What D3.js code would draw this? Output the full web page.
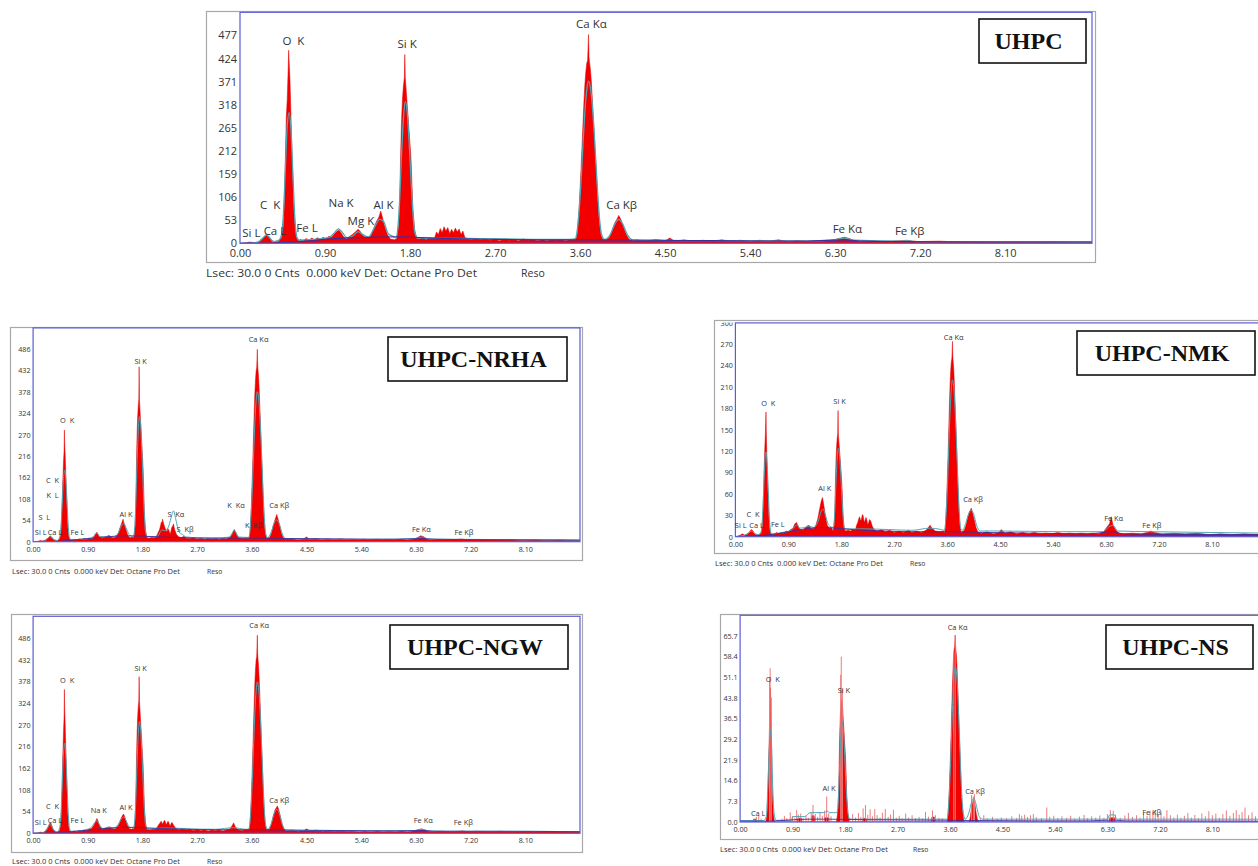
<!DOCTYPE html>
<html>
<head>
<meta charset="utf-8">
<script src="https://cdn.jsdelivr.net/npm/d3@7"></script>
<style>
  body { margin: 0; background: #fff; }
  svg { display: block; }
  text { white-space: pre; }
</style>
</head>
<body>
<svg id="chart" width="1258" height="866"></svg>
<script>
// ---------- Shared axis labels ----------
const energyTickLabels = ["0.00", "0.90", "1.80", "2.70", "3.60", "4.50", "5.40", "6.30", "7.20", "8.10"];
const uhpcCountTicks = ["0", "53", "106", "159", "212", "265", "318", "371", "424", "477"];
const nrhaCountTicks = ["0", "54", "108", "162", "216", "270", "324", "378", "432", "486"];
const nmkCountTicks = ["0", "30", "60", "90", "120", "150", "180", "210", "240", "270", "300"];
const ngwCountTicks = ["0", "54", "108", "162", "216", "270", "324", "378", "432", "486"];
const nsCountTicks = ["0.0", "7.3", "14.6", "21.9", "29.2", "36.5", "43.8", "51.1", "58.4", "65.7"];
const statusLine = "Lsec: 30.0 0 Cnts  0.000 keV Det: Octane Pro Det";
const statusReso = "Reso";

// ---------- UHPC : [keV, counts] ----------
const uhpcSpectrum = [[0.00,0],[0.06,1],[0.10,3],[0.14,2],[0.18,1],[0.22,6],[0.26,16],[0.28,21],[0.30,17],[0.33,8],[0.36,4],[0.40,6],[0.42,9],[0.44,12],[0.46,40],[0.47,100],[0.48,190],[0.49,290],[0.50,330],[0.51,400],[0.515,443],[0.52,420],[0.53,370],[0.54,290],[0.55,210],[0.56,140],[0.57,80],[0.585,35],[0.60,12],[0.62,6],[0.64,9],[0.67,5],[0.70,11],[0.73,7],[0.76,12],[0.79,8],[0.82,13],[0.85,9],[0.88,14],[0.91,10],[0.94,16],[0.97,14],[1.00,22],[1.03,28],[1.05,30],[1.07,24],[1.10,14],[1.13,10],[1.16,16],[1.19,20],[1.22,26],[1.25,32],[1.27,28],[1.29,22],[1.32,14],[1.35,12],[1.38,16],[1.41,30],[1.44,48],[1.47,60],[1.49,74],[1.51,58],[1.53,40],[1.56,20],[1.59,10],[1.62,9],[1.64,8],[1.66,11],[1.68,42],[1.69,91],[1.70,198],[1.71,281],[1.72,331],[1.73,361],[1.74,380],[1.745,433],[1.75,380],[1.76,350],[1.77,319],[1.78,289],[1.79,258],[1.80,228],[1.81,198],[1.82,141],[1.83,80],[1.85,30],[1.87,11],[1.90,10],[1.93,12],[1.97,9],[2.01,13],[2.04,11],[2.06,12],[2.08,26],[2.10,20],[2.12,34],[2.14,24],[2.16,38],[2.18,28],[2.20,36],[2.22,22],[2.24,32],[2.26,24],[2.28,35],[2.30,26],[2.32,33],[2.34,20],[2.36,28],[2.38,14],[2.41,10],[2.45,9],[2.50,11],[2.55,8],[2.60,10],[2.65,7],[2.70,9],[2.75,6],[2.80,10],[2.85,7],[2.90,9],[2.95,6],[3.00,10],[3.05,7],[3.10,9],[3.15,6],[3.20,8],[3.25,6],[3.30,9],[3.35,7],[3.40,8],[3.45,6],[3.50,9],[3.53,8],[3.555,9],[3.57,21],[3.59,80],[3.61,168],[3.62,218],[3.63,269],[3.64,319],[3.65,361],[3.66,391],[3.67,412],[3.68,420],[3.69,479],[3.695,428],[3.70,416],[3.71,399],[3.72,370],[3.73,332],[3.74,290],[3.75,252],[3.76,210],[3.78,130],[3.80,59],[3.82,21],[3.84,9],[3.88,8],[3.91,14],[3.94,30],[3.97,48],[3.99,55],[4.01,64],[4.03,56],[4.06,38],[4.09,20],[4.12,9],[4.16,6],[4.20,8],[4.30,5],[4.40,9],[4.50,6],[4.55,12],[4.60,5],[4.70,8],[4.80,5],[4.90,7],[5.00,5],[5.10,8],[5.20,5],[5.30,7],[5.40,4],[5.50,7],[5.60,5],[5.70,8],[5.80,4],[5.90,6],[6.00,4],[6.10,6],[6.20,5],[6.30,9],[6.36,12],[6.40,14],[6.45,11],[6.50,6],[6.60,4],[6.70,6],[6.80,4],[6.90,5],[7.00,6],[7.06,7],[7.12,5],[7.20,4],[7.40,5],[7.60,3],[7.80,4],[8.00,3],[8.20,4],[8.40,3],[8.60,4],[8.80,3],[9.02,3]];
const uhpcFit = [[0.00,0],[0.15,1],[0.20,4],[0.25,14],[0.28,19],[0.31,14],[0.35,4],[0.40,5],[0.44,20],[0.46,70],[0.48,170],[0.50,270],[0.52,300],[0.54,260],[0.56,160],[0.58,60],[0.60,15],[0.63,7],[0.70,8],[0.85,10],[0.95,14],[1.00,24],[1.04,33],[1.08,26],[1.13,13],[1.20,18],[1.25,27],[1.30,20],[1.36,14],[1.42,35],[1.48,55],[1.52,50],[1.57,22],[1.62,16],[1.65,12],[1.67,33],[1.69,98],[1.71,202],[1.73,286],[1.75,325],[1.77,302],[1.79,234],[1.81,150],[1.83,72],[1.85,26],[1.88,13],[1.92,12],[2.10,12],[2.40,11],[2.80,10],[3.20,9],[3.50,9],[3.55,11],[3.57,30],[3.59,74],[3.61,141],[3.63,223],[3.65,298],[3.67,350],[3.69,372],[3.71,357],[3.73,316],[3.75,253],[3.77,179],[3.79,104],[3.81,48],[3.83,19],[3.86,9],[3.92,20],[3.97,45],[4.01,55],[4.05,45],[4.10,20],[4.16,8],[4.40,7],[5.00,6],[6.00,5],[6.30,8],[6.40,12],[6.50,7],[7.00,5],[7.06,6],[7.15,4],[8.00,4],[9.02,3]];
const uhpcBackground = [[0.00,0],[0.30,0],[0.50,2],[0.70,5],[0.90,9],[1.10,12],[1.40,14],[1.70,15],[1.90,13],[2.20,11],[2.70,9],[3.20,8],[3.70,8],[4.20,7],[5.00,6],[6.00,5],[6.40,8],[6.60,5],[7.00,4],[8.00,3],[9.02,3]];
const uhpcPeakLabels = [["Si L",0.12,15],["Ca L",0.37,19],["C  K",0.32,78],["O  K",0.565,456],["Fe L",0.71,26],["Na K",1.07,84],["Mg K",1.28,42],["Al K",1.52,79],["Si K",1.77,449],["Ca Kα",3.72,495],["Ca Kβ",4.04,79],["Fe Kα",6.43,23],["Fe Kβ",7.09,19]];

// ---------- UHPC-NRHA ----------
const nrhaSpectrum = [[0.00,0],[0.08,1],[0.12,3],[0.16,2],[0.20,4],[0.25,10],[0.28,15],[0.31,11],[0.35,4],[0.40,3],[0.44,8],[0.46,25],[0.47,60],[0.48,110],[0.49,160],[0.50,200],[0.51,230],[0.515,282],[0.52,250],[0.53,210],[0.54,160],[0.55,115],[0.56,75],[0.57,40],[0.585,15],[0.60,6],[0.64,4],[0.68,6],[0.72,4],[0.76,7],[0.80,5],[0.84,8],[0.88,6],[0.92,9],[0.96,7],[1.00,12],[1.03,20],[1.05,24],[1.07,18],[1.10,10],[1.14,9],[1.18,12],[1.22,14],[1.25,16],[1.28,12],[1.32,10],[1.36,12],[1.40,20],[1.43,35],[1.46,48],[1.48,57],[1.50,45],[1.53,30],[1.56,15],[1.60,10],[1.63,12],[1.66,11],[1.68,40],[1.69,86],[1.70,187],[1.71,266],[1.72,313],[1.73,342],[1.74,360],[1.745,442],[1.75,360],[1.76,331],[1.77,302],[1.78,274],[1.79,245],[1.80,216],[1.81,187],[1.82,133],[1.83,76],[1.85,29],[1.87,11],[1.90,9],[1.93,10],[1.96,11],[2.00,10],[2.04,16],[2.06,24],[2.08,30],[2.10,42],[2.11,50],[2.12,44],[2.13,57],[2.15,45],[2.17,35],[2.19,28],[2.20,25],[2.22,33],[2.23,30],[2.25,22],[2.26,20],[2.28,35],[2.30,40],[2.31,45],[2.33,30],[2.36,18],[2.40,12],[2.44,10],[2.48,14],[2.52,9],[2.58,8],[2.64,10],[2.70,7],[2.76,9],[2.82,6],[2.88,8],[2.94,7],[3.00,9],[3.06,6],[3.12,8],[3.18,7],[3.24,12],[3.28,22],[3.31,31],[3.34,22],[3.38,10],[3.44,8],[3.50,9],[3.53,8],[3.555,9],[3.57,22],[3.59,84],[3.61,176],[3.62,229],[3.63,282],[3.64,334],[3.65,378],[3.66,409],[3.67,431],[3.68,440],[3.69,486],[3.695,449],[3.70,436],[3.71,418],[3.72,387],[3.73,348],[3.74,304],[3.75,264],[3.76,220],[3.78,136],[3.80,62],[3.82,22],[3.84,9],[3.89,10],[3.92,20],[3.95,40],[3.98,55],[4.01,69],[4.03,58],[4.06,40],[4.09,20],[4.12,9],[4.16,6],[4.25,8],[4.35,5],[4.45,7],[4.50,12],[4.55,6],[4.65,8],[4.75,5],[4.85,7],[4.95,5],[5.05,7],[5.15,5],[5.25,6],[5.35,4],[5.45,6],[5.55,4],[5.65,6],[5.75,4],[5.85,5],[5.95,4],[6.05,6],[6.15,4],[6.25,6],[6.32,10],[6.38,15],[6.42,13],[6.48,7],[6.55,4],[6.65,5],[6.80,4],[6.95,5],[7.05,7],[7.12,5],[7.25,4],[7.45,5],[7.65,4],[7.85,5],[8.05,3],[8.25,4],[8.45,3],[8.65,4],[8.85,3],[9.00,3]];
const nrhaFit = [[0.00,0],[0.15,1],[0.22,5],[0.28,13],[0.33,6],[0.40,3],[0.44,12],[0.46,42],[0.48,100],[0.50,160],[0.52,181],[0.54,155],[0.56,95],[0.58,36],[0.60,10],[0.63,5],[0.80,6],[0.95,9],[1.02,18],[1.05,22],[1.09,14],[1.18,12],[1.25,14],[1.32,12],[1.40,22],[1.46,42],[1.49,47],[1.53,35],[1.58,18],[1.62,14],[1.65,12],[1.67,32],[1.69,95],[1.71,196],[1.73,278],[1.75,316],[1.77,294],[1.79,228],[1.81,145],[1.83,70],[1.85,25],[1.88,13],[1.95,12],[2.05,14],[2.12,30],[2.16,28],[2.22,35],[2.27,60],[2.31,78],[2.35,55],[2.40,25],[2.46,18],[2.52,12],[2.70,10],[3.00,9],[3.24,12],[3.31,28],[3.38,12],[3.50,11],[3.55,11],[3.57,30],[3.59,76],[3.61,144],[3.63,227],[3.65,303],[3.67,356],[3.69,379],[3.71,364],[3.73,322],[3.75,258],[3.77,182],[3.79,106],[3.81,49],[3.83,19],[3.86,10],[3.92,25],[3.97,48],[4.01,55],[4.05,45],[4.10,20],[4.16,8],[4.50,7],[5.50,6],[6.30,8],[6.40,12],[6.50,7],[7.06,6],[8.00,5],[9.00,4]];
const nrhaBackground = [[0.00,0],[0.30,0],[0.50,2],[0.70,5],[0.90,8],[1.20,12],[1.50,15],[1.80,14],[2.10,12],[2.50,10],[3.00,9],[3.60,9],[4.20,8],[5.00,7],[6.00,6],[6.40,8],[6.60,6],[7.50,5],[9.00,4]];
const nrhaPeakLabels = [["Si L",0.125,17],["Ca L",0.36,17],["S  L",0.185,55],["K  L",0.32,110],["C  K",0.32,147],["Fe L",0.73,17],["O  K",0.56,300],["Al K",1.53,63],["Si K",1.77,449],["S  Kα",2.35,62],["S  Kβ",2.50,24],["K  Kα",3.34,84],["K  Kβ",3.63,34],["Ca Kα",3.71,505],["Ca Kβ",4.05,86],["Fe Kα",6.39,24],["Fe Kβ",7.09,17]];

// ---------- UHPC-NMK ----------
const nmkSpectrum = [[0.00,0],[0.08,2],[0.12,4],[0.16,2],[0.20,3],[0.24,7],[0.27,10],[0.30,8],[0.33,4],[0.38,2],[0.42,4],[0.44,5],[0.46,15],[0.47,35],[0.48,65],[0.49,100],[0.50,125],[0.51,145],[0.52,175],[0.525,150],[0.53,130],[0.54,100],[0.55,70],[0.56,45],[0.57,25],[0.585,10],[0.60,4],[0.65,3],[0.70,6],[0.74,4],[0.78,6],[0.82,5],[0.86,8],[0.90,7],[0.94,10],[0.98,12],[1.01,18],[1.04,20],[1.07,14],[1.10,10],[1.14,9],[1.18,12],[1.22,15],[1.25,16],[1.28,12],[1.32,11],[1.36,14],[1.40,25],[1.43,38],[1.46,50],[1.48,55],[1.50,46],[1.53,30],[1.56,16],[1.60,12],[1.63,13],[1.66,8],[1.68,16],[1.69,35],[1.70,75],[1.71,107],[1.72,126],[1.73,138],[1.74,145],[1.745,177],[1.75,145],[1.76,133],[1.77,122],[1.78,110],[1.79,99],[1.80,87],[1.81,75],[1.82,54],[1.83,30],[1.85,12],[1.87,8],[1.92,9],[1.96,8],[2.00,10],[2.04,9],[2.06,16],[2.08,20],[2.10,26],[2.11,28],[2.13,22],[2.14,24],[2.16,31],[2.17,30],[2.19,20],[2.20,22],[2.22,27],[2.23,25],[2.25,17],[2.26,18],[2.28,24],[2.30,22],[2.33,14],[2.37,9],[2.42,8],[2.48,10],[2.55,7],[2.62,9],[2.70,6],[2.78,8],[2.86,6],[2.94,9],[3.00,6],[3.08,8],[3.16,6],[3.24,9],[3.28,13],[3.31,16],[3.34,12],[3.40,8],[3.48,7],[3.53,8],[3.555,5],[3.57,13],[3.59,48],[3.61,100],[3.62,130],[3.63,160],[3.64,190],[3.65,215],[3.66,233],[3.67,245],[3.68,250],[3.69,274],[3.695,255],[3.70,248],[3.71,238],[3.72,220],[3.73,198],[3.74,173],[3.75,150],[3.76,125],[3.78,78],[3.80,35],[3.82,13],[3.84,6],[3.89,9],[3.92,16],[3.95,28],[3.98,35],[4.01,40],[4.03,34],[4.06,24],[4.09,13],[4.12,7],[4.18,5],[4.28,7],[4.38,4],[4.48,6],[4.52,10],[4.58,5],[4.68,7],[4.78,4],[4.88,6],[4.98,4],[5.08,6],[5.18,4],[5.28,5],[5.38,4],[5.48,6],[5.58,4],[5.68,5],[5.78,4],[5.88,5],[5.98,4],[6.08,5],[6.18,4],[6.26,7],[6.32,14],[6.36,18],[6.39,28],[6.42,16],[6.46,10],[6.52,5],[6.60,4],[6.75,5],[6.90,4],[7.00,6],[7.06,8],[7.12,6],[7.25,4],[7.45,5],[7.65,4],[7.85,5],[8.05,3],[8.25,4],[8.45,3],[8.65,4],[8.85,3],[9.02,3]];
const nmkFit = [[0.00,0],[0.15,2],[0.22,5],[0.28,8],[0.33,4],[0.40,3],[0.44,8],[0.46,28],[0.48,65],[0.50,105],[0.52,119],[0.54,100],[0.56,62],[0.58,24],[0.60,7],[0.63,4],[0.80,6],[0.95,9],[1.02,15],[1.05,17],[1.09,12],[1.18,13],[1.25,15],[1.32,13],[1.40,20],[1.46,36],[1.49,39],[1.53,30],[1.58,17],[1.62,14],[1.65,13],[1.67,15],[1.69,37],[1.71,77],[1.73,109],[1.75,124],[1.77,115],[1.79,89],[1.81,57],[1.83,28],[1.85,12],[1.88,11],[2.00,11],[2.20,11],[2.60,10],[3.00,9],[3.31,12],[3.50,10],[3.55,9],[3.57,18],[3.59,44],[3.61,84],[3.63,132],[3.65,176],[3.67,207],[3.69,220],[3.71,211],[3.73,187],[3.75,150],[3.77,106],[3.79,62],[3.81,29],[3.83,12],[3.86,9],[3.92,20],[3.97,33],[4.01,37],[4.05,32],[4.10,16],[4.16,8],[4.50,8],[5.50,7],[6.25,7],[6.35,14],[6.42,16],[6.50,8],[7.06,7],[8.00,6],[9.02,5]];
const nmkBackground = [[0.00,0],[0.30,0],[0.50,2],[0.70,4],[0.90,7],[1.20,11],[1.45,13],[1.70,12],[2.00,10],[2.50,8],[3.00,7],[3.60,7],[4.20,6],[5.00,5],[6.00,4],[6.40,7],[6.60,4],[7.50,3],[9.02,3]];
const nmkPeakLabels = [["Si L",0.09,12],["Ca L",0.36,12],["C  K",0.30,28],["Fe L",0.72,14],["O  K",0.56,184],["Al K",1.52,64],["Si K",1.77,186],["Ca Kα",3.71,276],["Ca Kβ",4.04,48],["Fe Kα",6.43,22.5],["Fe Kβ",7.08,12]];

// ---------- UHPC-NGW ----------
const ngwSpectrum = [[0.00,0],[0.08,1],[0.12,3],[0.16,2],[0.20,5],[0.24,14],[0.27,24],[0.29,26],[0.31,18],[0.34,7],[0.38,3],[0.42,5],[0.44,8],[0.46,30],[0.47,70],[0.48,140],[0.49,200],[0.50,250],[0.51,290],[0.515,358],[0.52,310],[0.53,260],[0.54,200],[0.55,140],[0.56,90],[0.57,50],[0.585,18],[0.60,6],[0.64,4],[0.68,6],[0.72,4],[0.76,7],[0.80,5],[0.84,8],[0.88,7],[0.92,10],[0.96,12],[1.00,20],[1.03,30],[1.05,37],[1.07,30],[1.10,16],[1.14,10],[1.18,12],[1.22,15],[1.26,16],[1.30,12],[1.34,11],[1.38,14],[1.42,25],[1.45,38],[1.47,44],[1.49,48],[1.51,40],[1.54,25],[1.58,12],[1.62,10],[1.64,12],[1.66,10],[1.68,36],[1.69,79],[1.70,172],[1.71,244],[1.72,287],[1.73,314],[1.74,330],[1.745,390],[1.75,330],[1.76,304],[1.77,277],[1.78,251],[1.79,224],[1.80,198],[1.81,172],[1.82,122],[1.83,69],[1.85,26],[1.87,10],[1.92,9],[1.96,11],[2.00,10],[2.04,14],[2.06,20],[2.08,24],[2.10,29],[2.11,30],[2.13,22],[2.14,26],[2.16,32],[2.17,31],[2.19,22],[2.20,24],[2.22,30],[2.23,28],[2.25,19],[2.26,20],[2.28,27],[2.29,26],[2.32,18],[2.36,11],[2.40,9],[2.46,11],[2.52,8],[2.58,10],[2.64,7],[2.70,9],[2.76,7],[2.82,9],[2.88,6],[2.94,8],[3.00,7],[3.06,9],[3.12,6],[3.18,8],[3.24,11],[3.28,20],[3.30,26],[3.33,15],[3.38,8],[3.44,7],[3.50,9],[3.53,8],[3.555,9],[3.57,22],[3.59,84],[3.61,176],[3.62,229],[3.63,282],[3.64,334],[3.65,378],[3.66,409],[3.67,431],[3.68,440],[3.69,493],[3.695,449],[3.70,436],[3.71,418],[3.72,387],[3.73,348],[3.74,304],[3.75,264],[3.76,220],[3.78,136],[3.80,62],[3.82,22],[3.84,9],[3.89,10],[3.92,22],[3.95,42],[3.98,58],[4.02,68],[4.04,60],[4.07,42],[4.10,22],[4.13,10],[4.17,6],[4.26,8],[4.36,5],[4.46,7],[4.50,11],[4.56,6],[4.66,8],[4.76,5],[4.86,7],[4.96,5],[5.06,7],[5.16,5],[5.26,6],[5.36,4],[5.46,6],[5.56,4],[5.66,6],[5.76,4],[5.86,5],[5.96,4],[6.06,6],[6.16,4],[6.26,6],[6.33,9],[6.39,11],[6.44,9],[6.50,6],[6.58,4],[6.70,5],[6.85,4],[7.00,5],[7.06,6],[7.14,4],[7.30,5],[7.50,4],[7.70,5],[7.90,3],[8.10,4],[8.30,3],[8.50,4],[8.70,3],[9.00,3]];
const ngwFit = [[0.00,0],[0.15,1],[0.22,8],[0.28,22],[0.33,10],[0.40,4],[0.44,15],[0.46,52],[0.48,125],[0.50,200],[0.52,224],[0.54,190],[0.56,118],[0.58,45],[0.60,12],[0.63,5],[0.80,7],[0.95,14],[1.01,26],[1.05,31],[1.09,22],[1.15,12],[1.25,15],[1.32,13],[1.40,22],[1.46,38],[1.49,41],[1.53,32],[1.58,16],[1.62,14],[1.65,12],[1.67,28],[1.69,83],[1.71,172],[1.73,245],[1.75,278],[1.77,259],[1.79,200],[1.81,128],[1.83,61],[1.85,22],[1.88,12],[1.95,11],[2.10,13],[2.30,13],[2.60,11],[3.00,10],[3.30,14],[3.50,10],[3.55,11],[3.57,30],[3.59,75],[3.61,143],[3.63,226],[3.65,302],[3.67,354],[3.69,377],[3.71,362],[3.73,320],[3.75,256],[3.77,181],[3.79,106],[3.81,49],[3.83,19],[3.86,10],[3.92,25],[3.97,50],[4.01,60],[4.05,50],[4.10,22],[4.16,8],[4.50,7],[5.50,6],[6.30,7],[6.40,10],[6.50,6],[7.06,5],[8.00,5],[9.00,4]];
const ngwBackground = [[0.00,0],[0.30,0],[0.50,2],[0.70,5],[0.90,8],[1.20,12],[1.50,15],[1.80,14],[2.10,12],[2.50,10],[3.00,9],[3.60,9],[4.20,8],[5.00,7],[6.00,6],[6.40,7],[6.60,5],[7.50,5],[9.00,4]];
const ngwPeakLabels = [["Si L",0.125,21],["Ca L",0.36,25],["C  K",0.32,60],["Fe L",0.73,25],["O  K",0.56,375],["Na K",1.08,50],["Al K",1.53,58],["Si K",1.77,404],["Ca Kα",3.72,510],["Ca Kβ",4.05,75],["Fe Kα",6.42,25],["Fe Kβ",7.08,21]];

// ---------- UHPC-NS ----------
const nsSpectrum = [[0.00,0],[0.22,0],[0.23,1],[0.27,1],[0.28,0],[0.44,0],[0.46,2],[0.48,12],[0.49,22],[0.50,30],[0.51,40],[0.52,47.4],[0.53,38],[0.54,25],[0.55,12],[0.57,3],[0.59,0],[0.98,0],[0.99,1.3],[1.05,1.3],[1.06,0],[1.22,0],[1.23,2.2],[1.27,2.2],[1.28,0],[1.44,0],[1.45,1.5],[1.52,1.5],[1.53,0],[1.65,0],[1.66,1],[1.68,5],[1.69,10],[1.70,22],[1.71,32],[1.72,38],[1.73,41],[1.74,43.3],[1.75,43],[1.76,40],[1.77,36],[1.78,33],[1.79,29],[1.80,26],[1.81,22],[1.82,16],[1.83,9],[1.85,3],[1.87,0],[2.10,0],[2.11,1.3],[2.16,1.3],[2.17,0],[3.28,0],[3.29,1.8],[3.33,1.8],[3.34,0],[3.555,0],[3.57,3],[3.59,12],[3.61,25],[3.62,32],[3.63,40],[3.64,47],[3.65,53],[3.66,58],[3.67,61],[3.68,62],[3.69,66],[3.695,63],[3.70,61],[3.71,59],[3.72,55],[3.73,49],[3.74,43],[3.75,37],[3.76,31],[3.78,19],[3.80,9],[3.82,3],[3.84,0],[3.93,0],[3.95,2],[3.97,5],[3.99,7],[4.01,7.8],[4.03,6],[4.05,3],[4.07,1],[4.09,0],[6.33,0],[6.34,1.5],[6.42,1.5],[6.43,0],[9.02,0]];
const nsChannelSpikes = [[0.24,1.2],[0.28,1.8],[0.32,2.5],[0.36,1.2],[0.505,51],[0.515,54.3],[0.535,44],[0.72,1.2],[0.76,2.1],[0.80,1.4],[0.86,3.4],[0.90,2.0],[0.94,1.5],[0.97,4.2],[1.00,2.6],[1.04,3.0],[1.08,1.4],[1.13,2.2],[1.17,1.5],[1.22,3.3],[1.25,6.0],[1.29,2.8],[1.33,1.8],[1.37,3.5],[1.41,2.2],[1.45,4.0],[1.485,9.0],[1.52,3.0],[1.56,2.0],[1.725,52],[1.735,58.4],[1.755,47],[1.88,1.5],[1.93,2.8],[1.98,1.6],[2.03,3.2],[2.07,1.8],[2.11,4.8],[2.15,6.0],[2.19,2.6],[2.23,4.5],[2.27,2.0],[2.31,4.6],[2.35,2.4],[2.40,1.6],[2.44,3.3],[2.49,4.6],[2.54,1.8],[2.58,2.6],[2.63,4.3],[2.68,1.5],[2.73,2.2],[2.78,1.3],[2.84,3.0],[2.89,1.6],[2.95,2.4],[3.01,1.4],[3.07,1.8],[3.13,1.2],[3.18,3.6],[3.23,1.9],[3.30,4.1],[3.35,2.4],[3.41,1.5],[3.47,1.3],[3.665,60],[3.69,66],[3.97,9.5],[4.00,9],[4.02,9.8],[4.12,1.5],[4.18,2.4],[4.24,1.3],[4.33,1.8],[4.41,1.2],[4.48,1.6],[4.57,1.3],[4.66,2.0],[4.74,1.4],[4.79,2.8],[4.83,2.2],[4.88,2.6],[4.93,1.8],[4.98,2.4],[5.03,2.8],[5.08,1.7],[5.17,1.4],[5.26,5.1],[5.31,1.8],[5.38,2.2],[5.45,1.4],[5.52,2.0],[5.60,1.5],[5.67,2.2],[5.74,1.3],[5.82,1.9],[5.90,2.5],[5.96,1.4],[6.03,2.0],[6.10,1.6],[6.17,2.3],[6.24,1.5],[6.30,2.8],[6.35,4.2],[6.40,4.0],[6.44,2.6],[6.52,1.5],[6.60,2.3],[6.66,3.2],[6.73,1.8],[6.80,2.4],[6.86,1.5],[6.92,3.0],[6.98,2.2],[7.03,4.0],[7.08,3.4],[7.12,4.2],[7.17,2.6],[7.22,3.8],[7.27,2.0],[7.32,4.2],[7.38,2.4],[7.44,1.6],[7.50,2.6],[7.56,1.5],[7.62,2.2],[7.68,3.2],[7.74,1.6],[7.80,2.5],[7.86,1.4],[7.92,3.0],[7.98,2.0],[8.04,3.8],[8.10,2.4],[8.16,3.0],[8.22,1.5],[8.28,2.8],[8.34,4.1],[8.40,2.2],[8.46,3.2],[8.51,4.2],[8.56,2.6],[8.61,3.5],[8.66,5.1],[8.72,2.4],[8.78,3.4],[8.84,2.0],[8.90,3.0],[8.96,2.4]];
const nsFit = [[0.00,0.5],[0.40,0.5],[0.45,2],[0.48,15],[0.51,30],[0.525,32.5],[0.54,27],[0.56,12],[0.59,2],[0.62,0.6],[0.80,0.6],[0.88,0.6],[0.90,1.9],[1.10,1.9],[1.12,2.0],[1.20,3.3],[1.45,3.3],[1.49,4],[1.53,3.3],[1.60,3.3],[1.65,3.3],[1.67,4],[1.69,10.6],[1.71,22],[1.73,31],[1.75,35.4],[1.77,33],[1.79,25.5],[1.81,16],[1.83,8],[1.85,3],[1.88,1],[2.20,1],[3.00,1],[3.50,1],[3.55,1],[3.57,4.4],[3.59,11],[3.61,21],[3.63,33],[3.65,44],[3.67,52],[3.69,55],[3.71,53],[3.73,47],[3.75,37],[3.77,26],[3.79,15],[3.81,7],[3.83,3],[3.86,1],[3.92,3],[3.97,7],[4.01,8.4],[4.05,6],[4.10,2],[4.16,1],[5.00,1],[6.30,1],[6.34,2.5],[6.42,2.5],[6.46,1],[7.00,1],[9.02,1]];
const nsBackground = [[0.00,0.3],[0.50,0.3],[0.70,0.5],[1.00,0.9],[1.20,1.0],[1.50,1.0],[1.80,0.9],[2.20,0.8],[3.00,0.7],[3.60,0.6],[4.20,0.5],[5.00,0.4],[6.00,0.4],[6.40,0.7],[6.60,0.4],[9.02,0.3]];
const nsPeakLabels = [["Ca L",0.31,2.1],["O  K",0.56,49.3],["Al K",1.525,11.1],["Si K",1.78,45.5],["Ca Kα",3.73,67.8],["Ca Kβ",4.03,9.9],["Fe Kβ",7.06,2.5]];

// ---------- Panel layout ----------
const panels = [
  { title: "UHPC", spectrum: uhpcSpectrum, fit: uhpcFit, bg: uhpcBackground, labels: uhpcPeakLabels,
    yTicks: uhpcCountTicks, yMax: 530, xMax: 9.02,
    frame: [206, 11, 1095, 262], plot: [240, 12.3, 1092, 243.3], box: [979, 19, 1086, 63],
    font: 11.5, tickFont: 11, status: [206, 276.5, 271, 521], clipTop: 0, axisClipTop: 0 },
  { title: "UHPC-NRHA", spectrum: nrhaSpectrum, fit: nrhaFit, bg: nrhaBackground, labels: nrhaPeakLabels,
    yTicks: nrhaCountTicks, yMax: 540, xMax: 9.0,
    frame: [10, 327, 582, 560], plot: [33.1, 327.9, 580, 541.7], box: [388, 337, 567, 381],
    font: 7.4, tickFont: 7.2, status: [12, 573.5, 168, 207], clipTop: 300, axisClipTop: 300 },
  { title: "UHPC-NMK", spectrum: nmkSpectrum, fit: nmkFit, bg: nmkBackground, labels: nmkPeakLabels,
    yTicks: nmkCountTicks, yMax: 300, xMax: 9.02,
    frame: [714, 320, 1262, 553], plot: [735.4, 322.9, 1266, 536.7], box: [1077, 331, 1255, 375],
    font: 7.4, tickFont: 7.2, status: [715, 565.5, 168, 910], clipTop: 319, axisClipTop: 322.6 },
  { title: "UHPC-NGW", spectrum: ngwSpectrum, fit: ngwFit, bg: ngwBackground, labels: ngwPeakLabels,
    yTicks: ngwCountTicks, yMax: 540, xMax: 9.0,
    frame: [11, 614, 582, 852], plot: [33.1, 616.3, 580, 833.3], box: [390, 625, 568, 669],
    font: 7.4, tickFont: 7.2, status: [12, 863.5, 168, 207], clipTop: 600, axisClipTop: 600 },
  { title: "UHPC-NS", spectrum: nsSpectrum, fit: nsFit, bg: nsBackground, labels: nsPeakLabels,
    spikes: nsChannelSpikes,
    yTicks: nsCountTicks, yMax: 73, xMax: 9.02,
    frame: [720, 614, 1262, 839], plot: [740.1, 615.3, 1266, 822], box: [1106, 625, 1253, 669],
    font: 7.4, tickFont: 7.2, status: [720, 851.5, 168, 913], clipTop: 600, axisClipTop: 600 }
];

const svg = d3.select("#chart");
const defs = svg.append("defs");
const sansFont = "'Open Sans', 'Noto Sans', sans-serif";

panels.forEach((p, i) => {
  const [fx0, fy0, fx1, fy1] = p.frame;
  const [pl, pt, pr, pb] = p.plot;
  const big = p.font > 10;

  defs.append("clipPath").attr("id", "panel" + i)
    .append("rect").attr("x", 0).attr("y", p.clipTop).attr("width", 1258).attr("height", 866 - p.clipTop);
  defs.append("clipPath").attr("id", "axis" + i)
    .append("rect").attr("x", 0).attr("y", p.axisClipTop).attr("width", 1258).attr("height", 866 - p.axisClipTop);
  defs.append("clipPath").attr("id", "plot" + i)
    .append("rect").attr("x", pl).attr("y", pt).attr("width", pr - pl).attr("height", pb - pt);

  const g = svg.append("g").attr("clip-path", `url(#panel${i})`);

  const x = d3.scaleLinear().domain([0, p.xMax]).range([pl, pr]);
  const y = d3.scaleLinear().domain([0, p.yMax]).range([pb, pt]);

  // outer window frame
  g.append("rect")
    .attr("x", fx0 + 0.5).attr("y", fy0 + 0.5)
    .attr("width", fx1 - fx0).attr("height", fy1 - fy0)
    .attr("fill", "#fff").attr("stroke", "#a8a8a8").attr("stroke-width", 1.2);

  const plotG = g.append("g").attr("clip-path", `url(#plot${i})`);

  // measured spectrum
  const area = d3.area().x(d => x(d[0])).y0(y(0)).y1(d => y(d[1])).curve(d3.curveLinear);
  plotG.append("path").datum(p.spectrum)
    .attr("d", area).attr("fill", "#f20000").attr("stroke", "#e00000").attr("stroke-width", 0.5);

  // single-channel counts (sparse spectrum)
  if (p.spikes) {
    plotG.selectAll("line.spike").data(p.spikes).join("line")
      .attr("class", "spike")
      .attr("x1", d => x(d[0])).attr("x2", d => x(d[0]))
      .attr("y1", y(0)).attr("y2", d => y(d[1]))
      .attr("stroke", "#ef7b7b").attr("stroke-width", 1);
  }

  // peak fit and background
  const smooth = d3.line().x(d => x(d[0])).y(d => y(d[1])).curve(d3.curveMonotoneX);
  plotG.append("path").datum(p.fit)
    .attr("d", smooth).attr("fill", "none")
    .attr("stroke", "#4fa6b6").attr("stroke-width", big ? 1.3 : 1);
  plotG.append("path").datum(p.bg)
    .attr("d", smooth)
    .attr("fill", "none").attr("stroke", "#3b2f9e").attr("stroke-width", big ? 1.2 : 0.9);

  // plot border
  g.append("rect")
    .attr("x", pl).attr("y", pt).attr("width", pr - pl).attr("height", pb - pt)
    .attr("fill", "none").attr("stroke", "#5c5cd6").attr("stroke-width", 1.2);

  // axes
  const axisG = g.append("g").attr("clip-path", `url(#axis${i})`);
  const yAxis = d3.axisLeft(y)
    .tickValues(p.yTicks.map(Number))
    .tickFormat((d, k) => p.yTicks[k])
    .tickSize(0).tickPadding(big ? 3 : 2.5);
  const yg = axisG.append("g").attr("transform", `translate(${pl},0)`).call(yAxis);
  yg.select(".domain").remove();
  yg.selectAll("text").attr("font-family", sansFont).attr("font-size", p.tickFont).attr("fill", "#333");

  const xAxis = d3.axisBottom(x)
    .tickValues(energyTickLabels.map(Number))
    .tickFormat((d, k) => energyTickLabels[k])
    .tickSize(0).tickPadding(big ? 5.5 : 5);
  const xg = axisG.append("g").attr("transform", `translate(0,${pb})`).call(xAxis);
  xg.select(".domain").remove();
  xg.selectAll("text").attr("font-family", sansFont).attr("font-size", p.tickFont).attr("fill", "#333");

  // peak labels
  g.selectAll("text.peak").data(p.labels).join("text")
    .attr("class", "peak")
    .attr("x", d => x(d[1])).attr("y", d => y(d[2]))
    .attr("text-anchor", "middle")
    .attr("font-family", sansFont).attr("font-size", p.font).attr("fill", "#333")
    .text(d => d[0]);

  // sample name box
  const [bx0, by0, bx1, by1] = p.box;
  g.append("rect")
    .attr("x", bx0).attr("y", by0).attr("width", bx1 - bx0).attr("height", by1 - by0)
    .attr("fill", "#fff").attr("stroke", "#111").attr("stroke-width", 1.6);
  g.append("text")
    .attr("x", (bx0 + bx1) / 2 - 4).attr("y", (by0 + by1) / 2 + 8)
    .attr("text-anchor", "middle")
    .attr("font-family", "'Liberation Serif', 'Times New Roman', serif")
    .attr("font-weight", "bold").attr("font-size", 24).attr("fill", "#111")
    .text(p.title);

  // acquisition status line
  const [sx, sy, sw, rx] = p.status;
  const sf = big ? 10.5 : 6.8;
  g.append("text").attr("x", sx).attr("y", sy)
    .attr("font-family", sansFont).attr("font-size", sf).attr("fill", "#333")
    .attr("textLength", sw).attr("lengthAdjust", "spacingAndGlyphs")
    .text(statusLine);
  g.append("text").attr("x", rx).attr("y", sy)
    .attr("font-family", sansFont).attr("font-size", sf).attr("fill", "#333")
    .text(statusReso);
});
</script>
</body>
</html>
